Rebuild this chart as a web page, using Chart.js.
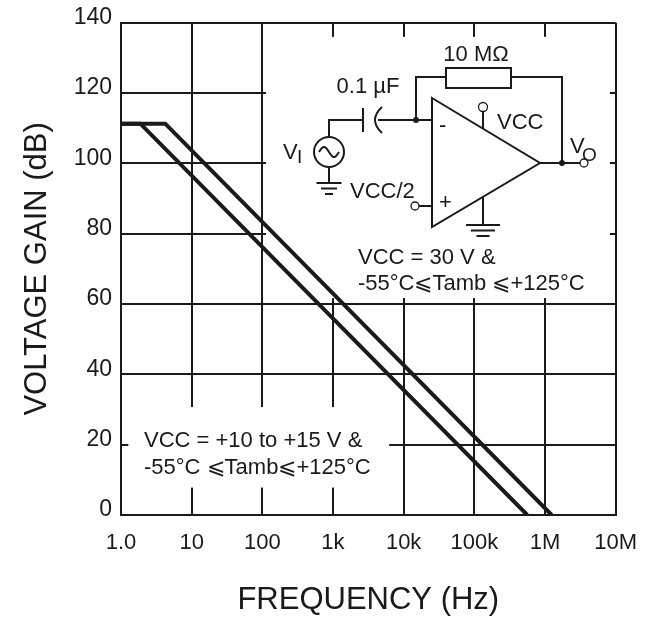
<!DOCTYPE html>
<html>
<head>
<meta charset="utf-8">
<script src="https://cdn.jsdelivr.net/npm/chart.js@4.4.1/dist/chart.umd.min.js"></script>
<style>
  html, body { margin: 0; padding: 0; background: #fff; }
</style>
</head>
<body>
<canvas id="gainChart" width="652" height="636"></canvas>
<script>
// Axis ticks
const freqTicks = [1, 10, 100, 1e3, 1e4, 1e5, 1e6, 1e7];
const freqLabels = ['1.0', '10', '100', '1k', '10k', '100k', '1M', '10M'];
const gainTicks = [0, 20, 40, 60, 80, 100, 120, 140];

// Open loop gain curves (Hz / dB)
const lowFreq = [1, 1.88, 562000];
const lowGain = [111.3, 111.3, 0];
const highFreq = [1, 4.23, 1245000];
const highGain = [111.3, 111.3, 0];

// Notes printed on the plot
const noteLow = ['VCC = +10 to +15 V &', '-55°C ⩽Tamb⩽+125°C'];
const noteHigh = ['VCC = 30 V &', '-55°C⩽Tamb ⩽+125°C'];

const ink = '#1a1a1a';
const fontFamily = '"Liberation Sans", Arial, Helvetica, sans-serif';

Chart.defaults.font.family = fontFamily;
Chart.defaults.color = ink;

function toPoints(xs, ys) {
    return xs.map((x, i) => ({ x: x, y: ys[i] }));
}

// white areas behind the notes and the circuit (data units), grid is hidden there
const masks = [
    { x0: 113, x1: 8.3e6, y0: 61.7, y1: 136 },
    { x0: 1.27, x1: 6240, y0: 7.8, y1: 30.7 },
];

const maskPlugin = {
    id: 'masks',
    beforeDatasetsDraw(chart) {
        const ctx = chart.ctx;
        const xs = chart.scales.x;
        const ys = chart.scales.y;
        ctx.save();
        ctx.fillStyle = '#fff';
        masks.forEach(m => {
            const l = xs.getPixelForValue(m.x0);
            const r = xs.getPixelForValue(m.x1);
            const t = ys.getPixelForValue(m.y1);
            const b = ys.getPixelForValue(m.y0);
            ctx.fillRect(l, t, r - l, b - t);
        });
        ctx.restore();
    }
};

function drawCircuit(ctx) {
    const line = pts => {
        ctx.beginPath();
        ctx.moveTo(pts[0][0], pts[0][1]);
        pts.slice(1).forEach(p => ctx.lineTo(p[0], p[1]));
        ctx.stroke();
    };
    const dot = (x, y, r) => {
        ctx.beginPath();
        ctx.arc(x, y, r, 0, Math.PI * 2);
        ctx.fill();
    };
    const ring = (x, y, r) => {
        ctx.save();
        ctx.lineWidth = 1.3;
        ctx.beginPath();
        ctx.arc(x, y, r, 0, Math.PI * 2);
        ctx.fillStyle = '#fff';
        ctx.fill();
        ctx.stroke();
        ctx.restore();
    };
    const ground = (x, y, widths) => {
        widths.forEach((w, i) => line([[x - w / 2, y + i * 5.5], [x + w / 2, y + i * 5.5]]));
    };

    ctx.save();
    ctx.strokeStyle = ink;
    ctx.fillStyle = ink;
    ctx.lineWidth = 2;
    ctx.lineJoin = 'miter';

    // op amp body
    ctx.beginPath();
    ctx.moveTo(432, 98);
    ctx.lineTo(540, 163);
    ctx.lineTo(432, 227);
    ctx.closePath();
    ctx.stroke();

    // feedback resistor
    ctx.strokeRect(446, 68, 65, 20);
    line([[416, 120], [416, 77], [446, 77]]);
    line([[511, 77], [562, 77], [562, 163]]);

    // output
    line([[540, 163], [580, 163]]);
    dot(562, 163, 3);
    ring(584, 163, 4);

    // inputs
    line([[378, 120], [432, 120]]);
    dot(416, 120, 3);
    line([[419, 206], [432, 206]]);
    ring(415, 206, 4);

    // supply pin and ground pin
    line([[483, 129], [483, 112]]);
    ring(483, 107, 4.5);
    line([[483, 197], [483, 225]]);
    ground(483, 225, [34, 24, 13]);

    // capacitor
    line([[363, 108], [363, 132]]);
    ctx.beginPath();
    ctx.moveTo(382, 107);
    ctx.quadraticCurveTo(368, 120, 382, 133);
    ctx.stroke();
    line([[329, 137], [329, 120], [363, 120]]);

    // signal source
    ctx.beginPath();
    ctx.arc(329, 152, 15, 0, Math.PI * 2);
    ctx.stroke();
    ctx.beginPath();
    for (let i = 0; i <= 20; i++) {
        const t = i / 20;
        const px = 319 + t * 20;
        const py = 152 - 5 * Math.sin(t * Math.PI * 2);
        if (i === 0) ctx.moveTo(px, py); else ctx.lineTo(px, py);
    }
    ctx.stroke();
    line([[329, 167], [329, 183]]);
    ground(329, 183, [25, 16, 8]);

    // labels
    ctx.textBaseline = 'middle';
    ctx.font = '22px ' + fontFamily;
    ctx.textAlign = 'center';
    ctx.fillText('10 MΩ', 476, 55);
    ctx.fillText('0.1 µF', 368, 87);
    ctx.textAlign = 'left';
    ctx.fillText('VCC', 497, 123);
    ctx.fillText('VCC/2', 350, 192);
    ctx.fillText('-', 439, 126);
    ctx.fillText('+', 439, 203);
    ctx.fillText('V', 283, 153);
    ctx.fillText('V', 570, 147);
    ctx.font = '19px ' + fontFamily;
    ctx.fillText('I', 297, 158);
    ctx.fillText('O', 582, 156);
    ctx.restore();
}

const notesPlugin = {
    id: 'notes',
    afterDraw(chart) {
        const ctx = chart.ctx;
        ctx.save();
        ctx.fillStyle = ink;
        ctx.font = '22px ' + fontFamily;
        ctx.textBaseline = 'middle';
        ctx.textAlign = 'left';
        noteHigh.forEach((t, i) => ctx.fillText(t, 358, 258 + i * 26));
        noteLow.forEach((t, i) => ctx.fillText(t, 144, 441 + i * 27));
        ctx.restore();
        drawCircuit(ctx);
    }
};

const curveStyle = {
    borderColor: ink,
    borderWidth: 4,
    pointRadius: 0,
    tension: 0,
    fill: false,
};

new Chart(document.getElementById('gainChart'), {
    type: 'line',
    data: {
        datasets: [
            Object.assign({ label: 'low', data: toPoints(lowFreq, lowGain) }, curveStyle),
            Object.assign({ label: 'high', data: toPoints(highFreq, highGain) }, curveStyle),
        ]
    },
    options: {
        responsive: false,
        animation: false,
        devicePixelRatio: 1,
        layout: { padding: { top: 20, right: 36, bottom: 0, left: 0 } },
        plugins: {
            legend: { display: false },
            tooltip: { enabled: false },
        },
        scales: {
            x: {
                type: 'logarithmic',
                min: 1,
                max: 1e7,
                afterBuildTicks: scale => {
                    scale.ticks = freqTicks.map(v => ({ value: v }));
                },
                afterFit: scale => { scale.height = 121; },
                grid: { color: ink, lineWidth: 2, drawTicks: false },
                border: { color: ink, width: 2 },
                ticks: {
                    padding: 15,
                    maxRotation: 0,
                    autoSkip: false,
                    font: { size: 22 },
                    callback: (v) => freqLabels[freqTicks.indexOf(v)],
                },
                title: {
                    display: true,
                    text: 'FREQUENCY (Hz)',
                    font: { size: 31 },
                    padding: { top: 0, bottom: 17 },
                },
            },
            y: {
                type: 'linear',
                min: 0,
                max: 140,
                afterBuildTicks: scale => {
                    scale.ticks = gainTicks.map(v => ({ value: v }));
                },
                afterFit: scale => { scale.width = 121; },
                grid: { color: ink, lineWidth: 2, drawTicks: false },
                border: { color: ink, width: 2 },
                ticks: {
                    padding: 9,
                    labelOffset: -5,
                    font: { size: 23 },
                },
                title: {
                    display: true,
                    text: 'VOLTAGE GAIN (dB)',
                    font: { size: 31 },
                    padding: { top: 19, bottom: 0 },
                },
            },
        },
    },
    plugins: [maskPlugin, notesPlugin],
});
</script>
</body>
</html>
